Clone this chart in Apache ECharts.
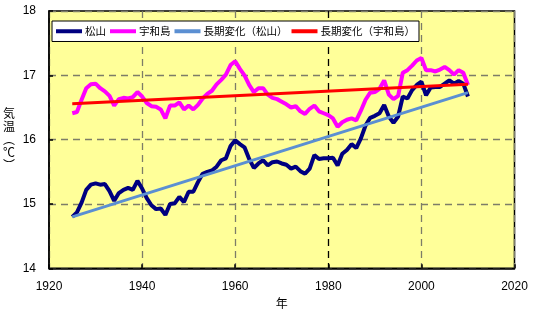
<!DOCTYPE html>
<html>
<head>
<meta charset="utf-8">
<script src="https://cdn.jsdelivr.net/npm/echarts@6/dist/echarts.min.js"></script>
<style>
  html, body { margin: 0; padding: 0; background: #ffffff; }
  #chart { width: 547px; height: 327px; }
</style>
</head>
<body>
<div id="chart"></div>
<script>
// Annual mean temperature (5-year running mean), 1925-2010
const firstYear = 1925;

const matsuyama = [
  14.80, 14.87, 15.02, 15.22, 15.30, 15.32, 15.30, 15.31, 15.20, 15.05,
  15.17, 15.22, 15.25, 15.22, 15.36, 15.24, 15.09, 14.98, 14.92, 14.93,
  14.83, 15.00, 15.01, 15.11, 15.03, 15.19, 15.19, 15.34, 15.47, 15.50,
  15.52, 15.58, 15.68, 15.71, 15.90, 15.99, 15.93, 15.88, 15.70, 15.56,
  15.63, 15.68, 15.60, 15.65, 15.66, 15.63, 15.61, 15.55, 15.58, 15.51,
  15.47, 15.55, 15.76, 15.70, 15.71, 15.71, 15.72, 15.60, 15.78, 15.84,
  15.93, 15.87, 16.02, 16.22, 16.34, 16.37, 16.41, 16.54, 16.36, 16.26,
  16.36, 16.67, 16.64, 16.77, 16.85, 16.90, 16.69, 16.81, 16.82, 16.82,
  16.87, 16.92, 16.87, 16.91, 16.87, 16.67
];

const uwajima = [
  16.41, 16.43, 16.62, 16.80, 16.86, 16.87, 16.80, 16.75, 16.68, 16.53,
  16.63, 16.65, 16.64, 16.66, 16.74, 16.67, 16.57, 16.52, 16.51, 16.47,
  16.33, 16.53, 16.53, 16.58, 16.47, 16.53, 16.47, 16.54, 16.64, 16.71,
  16.76, 16.86, 16.93, 17.01, 17.16, 17.22, 17.10, 17.00, 16.85, 16.74,
  16.80, 16.80, 16.70, 16.65, 16.63, 16.59, 16.55, 16.50, 16.52, 16.44,
  16.40, 16.48, 16.53, 16.44, 16.41, 16.38, 16.33, 16.20, 16.27, 16.31,
  16.33, 16.30, 16.45, 16.62, 16.73, 16.74, 16.79, 16.92, 16.70, 16.63,
  16.68, 17.04, 17.08, 17.15, 17.23, 17.27, 17.08, 17.08, 17.06, 17.09,
  17.13, 17.08, 17.01, 17.08, 17.04, 16.85
];

// Linear trends (start and end of the period)
const trendYears = [1925, 2010];
const trendMatsuyama = [14.80, 16.73];
const trendUwajima = [16.56, 16.86];

const seriesNames = ['松山', '宇和島', '長期変化（松山）', '長期変化（宇和島）'];

const xTicks = { min: 1920, max: 2020, step: 20 };
const yTicks = { min: 14, max: 18, step: 1 };

function pairs(xs, ys) { return ys.map((v, i) => [xs[i], v]); }
const years = matsuyama.map((_, i) => firstYear + i);

const labelFont = "'Liberation Sans', 'Noto Sans CJK JP', sans-serif";
const cjkFont = "'Noto Sans CJK JP', 'Liberation Sans', sans-serif";
const gridGray = '#7d7d68';

const chart = echarts.init(document.getElementById('chart'), null, { renderer: 'canvas' });

chart.setOption({
  animation: false,
  backgroundColor: '#ffffff',
  grid: {
    left: 46.5, right: 32.5, top: 11, bottom: 58.7,
    show: true,
    backgroundColor: '#ffff99',
    borderColor: '#000000',
    borderWidth: 1.5
  },
  legend: {
    left: 52, top: 21,
    padding: [5, 4, 5, 4],
    itemGap: 4,
    itemWidth: 26,
    itemHeight: 4,
    icon: 'rect',
    backgroundColor: '#ffffff',
    borderColor: '#000000',
    borderWidth: 1,
    borderRadius: 0,
    textStyle: { fontFamily: cjkFont, fontSize: 10.5, color: '#000000', padding: [0, 0, 0, -2] },
    data: seriesNames
  },
  xAxis: {
    type: 'value',
    min: xTicks.min, max: xTicks.max, interval: xTicks.step,
    name: '年',
    nameLocation: 'middle',
    nameGap: 28,
    nameTextStyle: { fontFamily: cjkFont, fontSize: 12, color: '#000000' },
    axisLine: { show: true, lineStyle: { color: '#000000', width: 1.5 } },
    axisTick: { show: true, inside: true, length: 4, lineStyle: { color: '#000000', width: 1.5 } },
    axisLabel: {
      fontFamily: labelFont, fontSize: 12, color: '#000000', margin: 12,
      formatter: (v) => String(v)
    },
    splitLine: {
      show: true,
      lineStyle: {
        color: [gridGray, gridGray, gridGray, '#000000', gridGray, gridGray],
        width: 1.3,
        type: [7, 5]
      }
    }
  },
  yAxis: {
    type: 'value',
    min: yTicks.min, max: yTicks.max, interval: yTicks.step,
    name: '気\n温\n︵\n℃\n︶',
    nameLocation: 'middle',
    nameRotate: 0,
    nameGap: 40,
    nameTextStyle: {
      fontFamily: cjkFont, fontSize: 12, color: '#000000',
      lineHeight: 13, align: 'center', padding: [0, 0, 9, 0]
    },
    axisLine: { show: true, lineStyle: { color: '#000000', width: 1.5 } },
    axisTick: { show: true, inside: true, length: 4, lineStyle: { color: '#000000', width: 1.5 } },
    axisLabel: { fontFamily: labelFont, fontSize: 12, color: '#000000', margin: 13 },
    splitLine: { show: true, lineStyle: { color: gridGray, width: 1.3, type: [7, 5] } }
  },
  series: [
    {
      name: seriesNames[0], type: 'line', symbol: 'none',
      data: pairs(years, matsuyama),
      lineStyle: { color: '#000080', width: 4 },
      itemStyle: { color: '#000080' }
    },
    {
      name: seriesNames[1], type: 'line', symbol: 'none',
      data: pairs(years, uwajima),
      lineStyle: { color: '#ff00ff', width: 4 },
      itemStyle: { color: '#ff00ff' }
    },
    {
      name: seriesNames[2], type: 'line', symbol: 'none',
      data: pairs(trendYears, trendMatsuyama),
      lineStyle: { color: '#5b8fd2', width: 3 },
      itemStyle: { color: '#5b8fd2' }
    },
    {
      name: seriesNames[3], type: 'line', symbol: 'none',
      data: pairs(trendYears, trendUwajima),
      lineStyle: { color: '#ff0000', width: 3 },
      itemStyle: { color: '#ff0000' }
    }
  ]
});
</script>
</body>
</html>
